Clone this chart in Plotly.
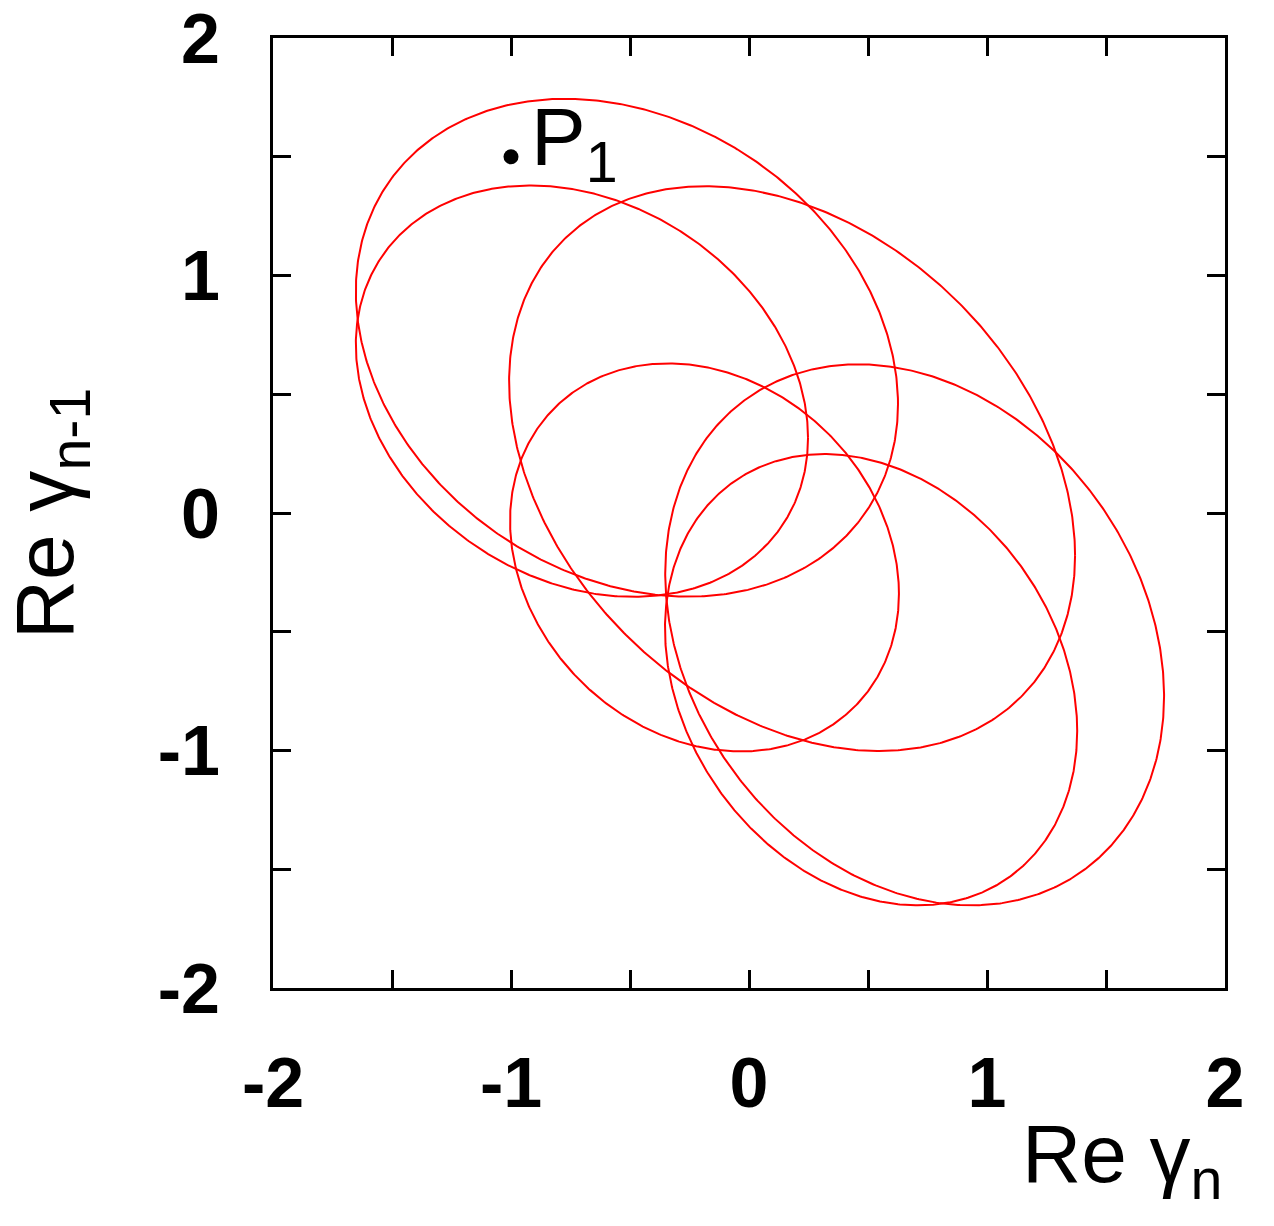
import numpy as np
import plotly.graph_objects as go

# Six invariant curves (ellipses): x = cx + ax*cos(s), y = cy + ay*cos(s + phase)
ell_cx    = [-0.513, 0.696, -0.702, 0.513, 0.181, -0.187]
ell_cy    = [0.696, -0.513, 0.513, -0.702, 0.187, -0.187]
ell_ax    = [1.139, 1.048, 0.950, 0.866, 1.189, 0.817]
ell_ay    = [1.048, 1.139, 0.866, 0.950, 1.189, 0.817]
ell_phase = [1.80, 1.80, 1.80, 1.80, 1.884, 1.76]

# marked point P1
p1_x = [-1.0]
p1_y = [1.5]

tick_vals = [-2, -1.5, -1, -0.5, 0, 0.5, 1, 1.5, 2]
tick_text = ["-2", "", "-1", "", "0", "", "1", "", "2"]

FONT = "Liberation Sans"

fig = go.Figure()
s = np.linspace(0, 2 * np.pi, 721)
for cx, cy, ax, ay, ph in zip(ell_cx, ell_cy, ell_ax, ell_ay, ell_phase):
    fig.add_trace(go.Scatter(
        x=cx + ax * np.cos(s), y=cy + ay * np.cos(s + ph),
        mode="lines", line=dict(color="#ff0000", width=2),
        showlegend=False, hoverinfo="skip"))

fig.add_trace(go.Scatter(x=p1_x, y=p1_y, mode="markers",
                         marker=dict(color="black", size=15),
                         showlegend=False))
fig.add_annotation(x=p1_x[0], y=p1_y[0], xref="x", yref="y",
                   text="P<sub>1</sub>", showarrow=False,
                   xanchor="left", yanchor="middle", xshift=18, yshift=14,
                   font=dict(family=FONT, size=82, color="black"))

axis_common = dict(
    range=[-2, 2], tickmode="array", tickvals=tick_vals, ticktext=tick_text,
    ticks="inside", ticklen=18, tickwidth=3, tickcolor="black",
    showline=True, linewidth=3, linecolor="black", mirror="ticks",
    showgrid=False, zeroline=False, automargin=False,
    ticklabeloverflow="allow",
    tickfont=dict(family=FONT, size=70, color="black", weight="bold"),
)

fig.update_layout(
    width=1274, height=1226,
    margin=dict(l=273, r=49, t=38, b=238),
    paper_bgcolor="white", plot_bgcolor="white",
    xaxis=dict(**axis_common, ticklabelstandoff=32),
    yaxis=dict(**axis_common, ticklabelstandoff=36),
)

fig.add_annotation(xref="paper", yref="paper", x=1.0, y=-0.18,
                   xanchor="right", yanchor="middle", showarrow=False,
                   text="Re γ<sub>n</sub>",
                   font=dict(family=FONT, size=82, color="black"))
fig.add_annotation(xref="paper", yref="paper", x=-0.234, y=0.50,
                   xanchor="center", yanchor="middle", showarrow=False,
                   textangle=-90, text="Re γ<sub>n-1</sub>",
                   font=dict(family=FONT, size=82, color="black"))

fig.write_html("out.html")
